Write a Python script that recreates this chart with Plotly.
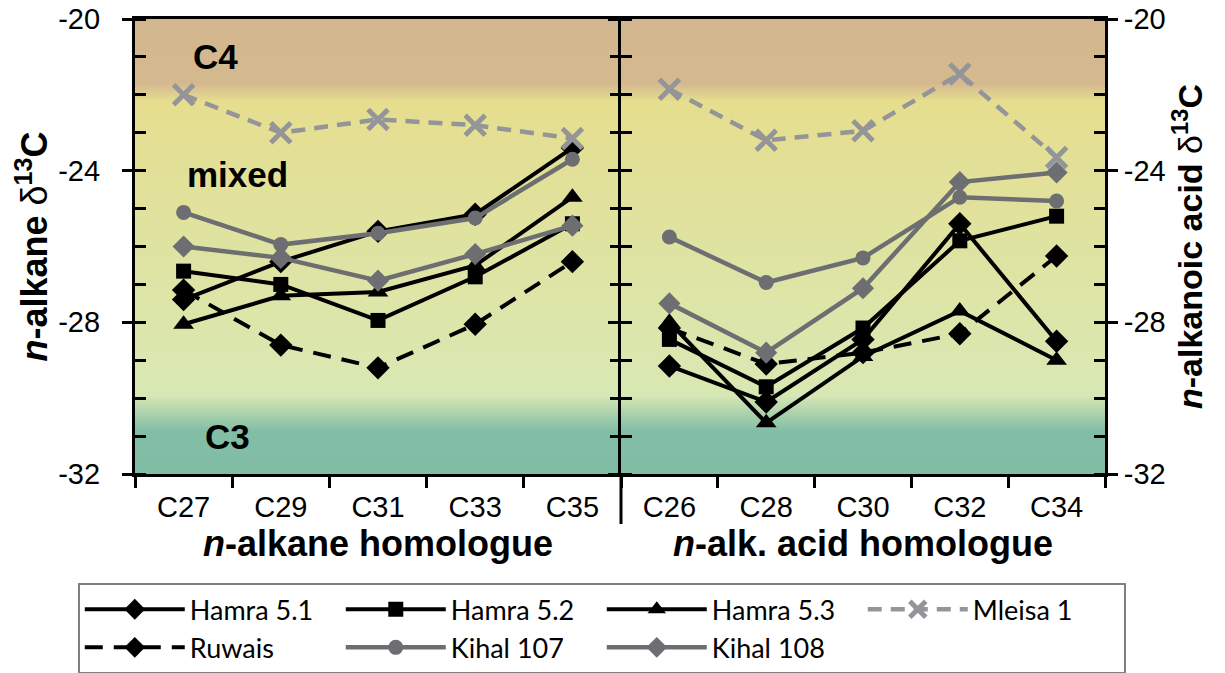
import plotly.graph_objects as go
from plotly.subplots import make_subplots

# ---- data: d13C (per mil) of n-alkanes and n-alkanoic acids ----
alkane_cats = ["C27", "C29", "C31", "C33", "C35"]
acid_cats = ["C26", "C28", "C30", "C32", "C34"]

hamra51_alk = [-27.4, -26.4, -25.6, -25.15, -23.4]
hamra52_alk = [-26.65, -27.0, -27.95, -26.8, -25.4]
hamra53_alk = [-28.05, -27.3, -27.2, -26.5, -24.7]
mleisa1_alk = [-22.0, -23.0, -22.65, -22.8, -23.15]
ruwais_alk = [-27.15, -28.6, -29.2, -28.05, -26.4]
kihal107_alk = [-25.1, -25.95, -25.65, -25.25, -23.7]
kihal108_alk = [-26.0, -26.3, -26.9, -26.2, -25.45]

hamra51_acid = [-29.15, -30.1, -28.45, -25.4, -28.5]
hamra52_acid = [-28.45, -29.7, -28.15, -25.85, -25.2]
hamra53_acid = [-28.0, -30.65, -28.9, -27.7, -29.0]
mleisa1_acid = [-21.85, -23.2, -22.95, -21.45, -23.65]
ruwais_acid = [-28.15, -29.1, -28.8, -28.3, -26.25]
kihal107_acid = [-25.75, -26.95, -26.3, -24.7, -24.8]
kihal108_acid = [-27.5, -28.8, -27.1, -24.3, -24.05]

y_tick_vals = [-32, -28, -24, -20]
y_tick_text = ["-32", "-28", "-24", "-20"]

Y_MIN, Y_MAX = -32, -20

BLACK = "#000000"
DARK_GREY = "#6d6e71"
LIGHT_GREY = "#939598"

# series styles: name, alkane values, acid values, colour, dash, symbol, size, legend rank
series = [
    ("Hamra 5.1", hamra51_alk, hamra51_acid, BLACK, "solid", "diamond", 18, 1),
    ("Hamra 5.2", hamra52_alk, hamra52_acid, BLACK, "solid", "square", 15, 2),
    ("Hamra 5.3", hamra53_alk, hamra53_acid, BLACK, "solid", "triangle-up", 18, 3),
    ("Ruwais", ruwais_alk, ruwais_acid, BLACK, "18px,11px", "diamond", 18, 5),
    ("Kihal 107", kihal107_alk, kihal107_acid, DARK_GREY, "solid", "circle", 15, 6),
    ("Kihal 108", kihal108_alk, kihal108_acid, DARK_GREY, "solid", "diamond", 17, 7),
    ("Mleisa 1", mleisa1_alk, mleisa1_acid, LIGHT_GREY, "14px,9px", "x-thin", 20, 4),
]

fig = make_subplots(rows=1, cols=2, horizontal_spacing=0.0)

# background: vertical colour gradient C3 (teal) -> mixed (yellow) -> C4 (tan)
grad_stops = [
    (-32.0, "rgb(128,189,164)"),
    (-30.85, "rgb(130,190,165)"),
    (-29.9, "rgb(216,232,180)"),
    (-27.5, "rgb(221,229,168)"),
    (-24.0, "rgb(226,224,152)"),
    (-22.15, "rgb(230,222,142)"),
    (-21.7, "rgb(212,185,143)"),
    (-20.0, "rgb(211,183,142)"),
]
colorscale = [[(v - Y_MIN) / (Y_MAX - Y_MIN), c] for v, c in grad_stops]
grad_y = [Y_MIN + i * 0.05 for i in range(int((Y_MAX - Y_MIN) / 0.05) + 1)]

for col, cats in ((1, alkane_cats), (2, acid_cats)):
    fig.add_trace(
        go.Heatmap(
            x=cats, y=grad_y, z=[[yy] * len(cats) for yy in grad_y],
            colorscale=colorscale, zmin=Y_MIN, zmax=Y_MAX, zsmooth="best",
            showscale=False, hoverinfo="skip",
        ),
        row=1, col=col,
    )

for name, alk, acid, color, dash, symbol, size, rank in series:
    if symbol == "x-thin":
        marker = dict(symbol=symbol, size=size, color=color,
                      line=dict(color=color, width=5))
    else:
        marker = dict(symbol=symbol, size=size, color=color,
                      line=dict(width=0))
    for col, cats, vals in ((1, alkane_cats, alk), (2, acid_cats, acid)):
        fig.add_trace(
            go.Scatter(
                x=cats, y=vals, mode="lines+markers", name=name,
                legendgroup=name, legendrank=rank, showlegend=(col == 1),
                line=dict(color=color, width=4 if color == BLACK else 4.5, dash=dash),
                marker=marker,
            ),
            row=1, col=col,
        )

axis_font = dict(family="Liberation Sans, Arial, sans-serif", size=29, color="black")
title_font = dict(family="Liberation Sans, Arial, sans-serif", size=36, color="black")

x_common = dict(
    type="category", range=[-0.5, 4.5], tickson="boundaries",
    ticks="outside", ticklen=11, tickwidth=3, tickcolor="black",
    showline=True, linewidth=3, linecolor="black", mirror=True,
    showgrid=False, zeroline=False, tickfont=axis_font, title_font=title_font,
    ticklabelstandoff=5, title_standoff=6,
)
fig.update_xaxes(**x_common)
fig.update_xaxes(title_text="<b><i>n</i>-alkane homologue</b>", row=1, col=1)
fig.update_xaxes(title_text="<b><i>n</i>-alk. acid homologue</b>", row=1, col=2)

y_common = dict(
    range=[Y_MIN, Y_MAX], tickmode="array", tickvals=y_tick_vals,
    ticks="outside", ticklen=10, tickwidth=3, tickcolor="black",
    minor=dict(ticks="inside", dtick=1, tick0=-32, ticklen=11, tickwidth=3,
               tickcolor="black", showgrid=False),
    showline=True, linewidth=3, linecolor="black", mirror="ticks",
    showgrid=False, zeroline=False, tickfont=axis_font,
)
fig.update_yaxes(**y_common)
# left labels get a non-breaking gap so they sit a little further from the axis
fig.update_yaxes(title_text="<b><i>n</i>-alkane </b>δ<b><sup>13</sup>C</b>",
                 ticktext=[t + "<span>\u00a0\u00a0</span>" for t in y_tick_text],
                 title_font=title_font, side="left",
                 title_standoff=0, row=1, col=1)
fig.update_yaxes(title_text="<b><i>n</i>-alkanoic acid </b>δ<b><sup>13</sup>C</b>",
                 ticktext=y_tick_text,
                 title_font=dict(title_font, size=34), side="right",
                 title_standoff=8, row=1, col=2)

split = 486 / 970
fig.update_layout(
    xaxis=dict(domain=[0, split]),
    xaxis2=dict(domain=[split, 1]),
)

# divider between the two panels runs down past the axis
fig.add_shape(type="line", xref="paper", yref="paper", x0=split, x1=split,
              y0=-0.11, y1=0, line=dict(color="black", width=3))

# photosynthetic pathway zones
zone_font = dict(family="Liberation Sans, Arial, sans-serif", size=35, color="black")
for text, xd, yv in (("C4", 0.165, -21.0), ("mixed", 0.21, -24.1), ("C3", 0.19, -31.0)):
    fig.add_annotation(text=f"<b>{text}</b>", xref="x domain", yref="y", x=xd, y=yv,
                       xanchor="center", yanchor="middle",
                       showarrow=False, font=zone_font)

fig.update_layout(
    width=1225, height=673,
    margin=dict(l=135, r=120, t=19, b=199, autoexpand=False),
    paper_bgcolor="white", plot_bgcolor="white",
    showlegend=True,
    legend=dict(
        orientation="h", x=-0.059, y=-0.24, xanchor="left", yanchor="top",
        bordercolor="#808080", borderwidth=2, bgcolor="white",
        font=dict(family="Lato, sans-serif", size=27, color="black"),
        entrywidth=146, entrywidthmode="pixels", itemwidth=100,
        traceorder="normal", tracegroupgap=0,
    ),
)

fig.write_html("out.html")
